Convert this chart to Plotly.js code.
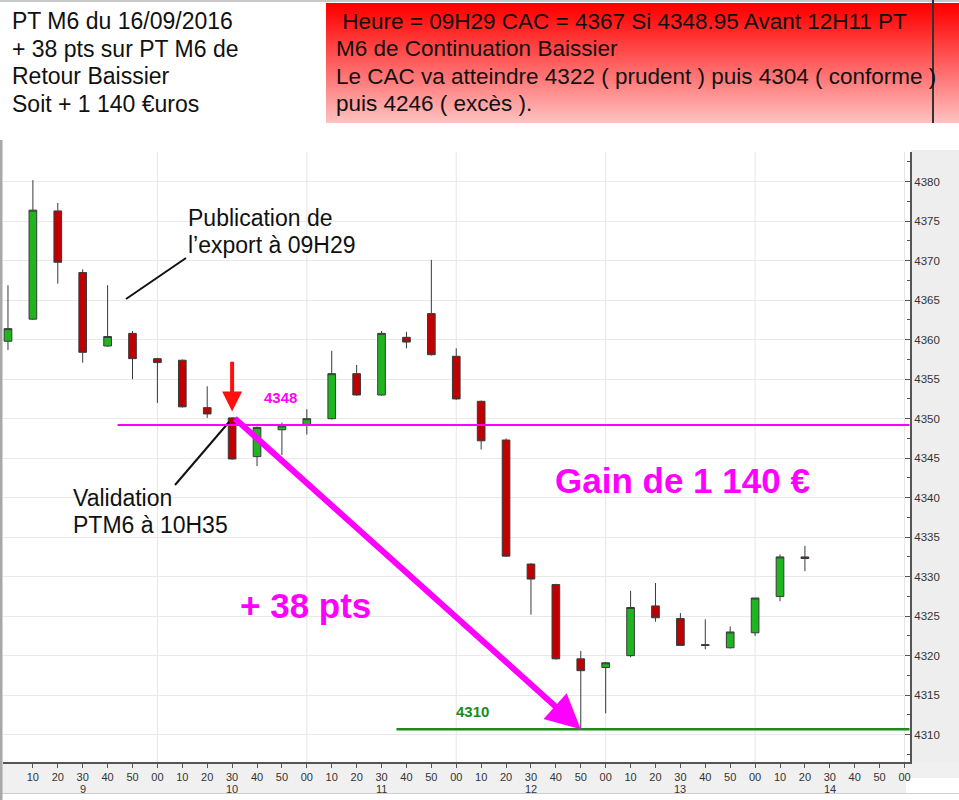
<!DOCTYPE html>
<html>
<head>
<meta charset="utf-8">
<script src="https://cdn.plot.ly/plotly-3.0.1.min.js"></script>
<style>
html,body{margin:0;padding:0;background:#fff;}
#chart{width:959px;height:800px;}
</style>
</head>
<body>
<div id="chart"></div>
<script>
// ---- data (10-minute candles, CAC 40, 16/09/2016) ----
const times  = ["09:00","09:10","09:20","09:30","09:40","09:50","10:00","10:10","10:20","10:30","10:40","10:50",
                "11:00","11:10","11:20","11:30","11:40","11:50","12:00","12:10","12:20","12:30","12:40","12:50",
                "13:00","13:10","13:20","13:30","13:40","13:50","14:00","14:10","14:20"];
const openV  = [4359.8,4362.6,4376.3,4368.5,4359.2,4360.8,4357.6,4357.4,4351.4,4350.1,4345.2,4348.6,
                4349.2,4350.0,4355.7,4353.0,4360.3,4363.3,4357.9,4352.2,4347.3,4331.6,4329.0,4319.6,
                4318.5,4320.0,4326.3,4324.7,4321.4,4321.0,4322.9,4327.5,4332.5];
const highV  = [4366.9,4380.2,4377.3,4368.9,4366.9,4361.1,4357.7,4357.5,4354.1,4350.2,4349.0,4349.5,
                4351.2,4358.6,4356.8,4361.1,4361.0,4370.1,4358.9,4352.3,4347.5,4331.7,4329.1,4320.6,
                4319.2,4328.2,4329.2,4325.4,4324.6,4323.7,4327.3,4332.8,4333.9];
const lowV   = [4358.7,4362.5,4367.1,4357.1,4359.1,4355.0,4352.0,4351.4,4350.1,4344.8,4344.0,4345.4,
                4348.0,4349.9,4352.9,4352.9,4358.9,4358.0,4352.4,4346.1,4332.5,4325.2,4319.5,4310.7,
                4312.7,4319.8,4324.3,4321.3,4320.8,4320.9,4322.5,4326.9,4330.7];
const closeV = [4361.4,4376.4,4369.8,4358.4,4360.4,4357.6,4357.1,4351.5,4350.6,4344.9,4348.9,4349.1,
                4350.0,4355.7,4353.0,4360.8,4359.7,4358.1,4352.5,4347.2,4332.6,4329.7,4319.6,4318.1,
                4319.1,4326.1,4324.8,4321.3,4321.3,4323.0,4327.3,4332.5,4332.3];
const hours = [9,10,11,12,13,14];
const levelSignal = 4349.2;   // ligne 4348
const levelTarget = 4310.7;   // ligne 4310
const signalTime = "10:30";
const targetTime = "12:50";
const lineSignalStart = "09:44";
const lineTargetStart = "11:36";

const textTopLeft = ["PT M6 du 16/09/2016", "+ 38 pts sur PT M6 de", "Retour Baissier", "Soit + 1 140 €uros"];
const textRedBox  = ["\u00a0Heure = 09H29 CAC = 4367 Si 4348.95 Avant 12H11 PT", "M6 de Continuation Baissier",
                     "Le CAC va atteindre 4322 ( prudent ) puis 4304 ( conforme )", "puis 4246 ( excès )."];
const textPublication = ["Publication de", "l’export à 09H29"];
const textValidation  = ["Validation", "PTM6 à 10H35"];

// ---- helpers ----
const toMin = t => { const p = t.split(":"); return (+p[0]) * 60 + (+p[1]); };
const xs = times.map(toMin);
const PX = px => (px - 3) / 907;      // pixel -> paper x
const PY = py => (762 - py) / 610;    // pixel -> paper y
const pad2 = n => (n < 10 ? "0" : "") + n;

const tickVals = [], tickText = [];
for (let m = 550; m <= 900; m += 10) { tickVals.push(m); tickText.push(pad2(m % 60)); }

const FONT = "Liberation Sans, Arial, sans-serif";

const trace = {
  type: "candlestick",
  x: xs, open: openV, high: highV, low: lowV, close: closeV,
  increasing: { fillcolor: "#1fb51f", line: { color: "#3a3a3a", width: 1 } },
  decreasing: { fillcolor: "#c00000", line: { color: "#3a3a3a", width: 1 } },
  whiskerwidth: 0,
  hoverinfo: "skip",
  showlegend: false
};

const svg = "<svg xmlns='http://www.w3.org/2000/svg' width='100' height='100' preserveAspectRatio='none'>" +
  "<defs><linearGradient id='g' x1='0' y1='0' x2='0' y2='1'>" +
  "<stop offset='0' stop-color='#ff0000'/><stop offset='0.08' stop-color='#ff0a0a'/><stop offset='1' stop-color='#ffc2c2'/>" +
  "</linearGradient></defs><rect width='100' height='100' fill='url(#g)'/></svg>";

const shapes = [
  { type: "rect", xref: "paper", yref: "paper", x0: PX(3), x1: PX(17), y0: PY(762), y1: PY(152), fillcolor: "#fff", line: { width: 0 }, layer: "between" },
  { type: "rect", xref: "paper", yref: "paper", x0: PX(3), x1: PX(57), y0: PY(762), y1: PY(365), fillcolor: "#fff", line: { width: 0 }, layer: "between" },
  { type: "rect", xref: "paper", yref: "paper", x0: PX(3), x1: PX(288), y0: PY(762), y1: PY(408), fillcolor: "#fff", line: { width: 0 }, layer: "between" },
  { type: "rect", xref: "paper", yref: "paper", x0: PX(911), x1: PX(960), y0: PY(762), y1: PY(150), fillcolor: "#eeeeee", line: { width: 0 }, layer: "below" },
  { type: "rect", xref: "paper", yref: "paper", x0: PX(0), x1: PX(906), y0: PY(793), y1: PY(762), fillcolor: "#f0f0f0", line: { width: 0 }, layer: "below" },
  { type: "rect", xref: "paper", yref: "paper", x0: PX(906), x1: PX(960), y0: PY(778), y1: PY(762), fillcolor: "#f0f0f0", line: { width: 0 }, layer: "below" },
  { type: "line", xref: "paper", yref: "paper", x0: PX(0), x1: PX(960), y0: PY(793.5), y1: PY(793.5), line: { color: "#cfcfcf", width: 1 }, layer: "below" },
  { type: "rect", xref: "paper", yref: "paper", x0: PX(0), x1: PX(2.5), y0: PY(800), y1: PY(140), fillcolor: "#a8a8a8", line: { width: 0 }, layer: "above" },
  { type: "line", xref: "paper", yref: "paper", x0: PX(0), x1: PX(959), y0: PY(1), y1: PY(1), line: { color: "#c8c8c8", width: 2 }, layer: "below" },
  { type: "line", xref: "paper", yref: "paper", x0: PX(933), x1: PX(933), y0: PY(0), y1: PY(123), line: { color: "#333", width: 2 }, layer: "above" },
  { type: "line", xref: "paper", yref: "paper", x0: PX(126), y0: PY(299), x1: PX(186), y1: PY(258), line: { color: "#111", width: 2 }, layer: "above" },
  { type: "line", xref: "paper", yref: "paper", x0: PX(175), y0: PY(485), x1: PX(229), y1: PY(422), line: { color: "#111", width: 2 }, layer: "above" },
  { type: "line", xref: "x", yref: "y", x0: toMin(lineSignalStart), x1: 902, y0: levelSignal, y1: levelSignal, line: { color: "#ff00ff", width: 2 }, layer: "above" },
  { type: "line", xref: "x", yref: "y", x0: toMin(lineTargetStart), x1: 902, y0: levelTarget, y1: levelTarget, line: { color: "#1b8c1b", width: 2.5 }, layer: "above" }
];
hours.forEach(h => {
  if (h > 9) shapes.push({ type: "line", xref: "x", yref: "paper", x0: h * 60, x1: h * 60, y0: 0, y1: 1, line: { color: "#e6e6e6", width: 1 }, layer: "below" });
});
shapes.push({ type: "line", xref: "x", yref: "paper", x0: 900, x1: 900, y0: 0, y1: 1, line: { color: "#e6e6e6", width: 1 }, layer: "below" });

const annotations = [];
function textBlock(lines, pxLeft, pyFirst, step, size) {
  lines.forEach((s, i) => annotations.push({
    xref: "paper", yref: "paper", x: PX(pxLeft), y: PY(pyFirst + i * step), xanchor: "left", yanchor: "middle",
    showarrow: false, text: s, font: { family: FONT, size: size, color: "#111" }
  }));
}
textBlock(textTopLeft, 10, 21, 27.6, 23);
textBlock(textRedBox, 334, 21, 27.6, 22.5);
textBlock(textPublication, 186, 218, 27, 23);
textBlock(textValidation, 71, 498, 27, 23);

annotations.push(
  { xref: "paper", yref: "paper", x: PX(305), y: PY(605), xanchor: "center", yanchor: "middle", showarrow: false,
    text: "<b>+ 38 pts</b>", font: { family: FONT, size: 35, color: "#ff00ff" } },
  { xref: "paper", yref: "paper", x: PX(682), y: PY(480), xanchor: "center", yanchor: "middle", showarrow: false,
    text: "<b>Gain de 1 140 €</b>", font: { family: FONT, size: 35, color: "#ff00ff" } },
  { xref: "paper", yref: "paper", x: PX(280), y: PY(397), xanchor: "center", yanchor: "middle", showarrow: false,
    text: "<b>4348</b>", font: { family: FONT, size: 15, color: "#ff00ff" } },
  { xref: "paper", yref: "paper", x: PX(472), y: PY(711), xanchor: "center", yanchor: "middle", showarrow: false,
    text: "<b>4310</b>", font: { family: FONT, size: 15, color: "#1b8c1b" } },
  { x: toMin(signalTime), y: highV[times.indexOf(signalTime)] + 0.7, ax: toMin(signalTime), ay: highV[times.indexOf(signalTime)] + 7.2,
    xref: "x", yref: "y", axref: "x", ayref: "y", text: "", showarrow: true,
    arrowhead: 2, arrowsize: 1, arrowwidth: 4, arrowcolor: "#ff1010", standoff: 0 },
  { x: toMin(targetTime), y: lowV[times.indexOf(targetTime)], ax: toMin(signalTime) + 0.5, ay: highV[times.indexOf(signalTime)],
    xref: "x", yref: "y", axref: "x", ayref: "y", text: "", showarrow: true,
    arrowhead: 2, arrowsize: 1.15, arrowwidth: 6, arrowcolor: "#ff00ff", standoff: 0 }
);
hours.forEach(h => {
  annotations.push({ xref: "x", yref: "paper", x: h * 60 + 30, y: PY(789), xanchor: "center", yanchor: "middle", showarrow: false,
    text: String(h), font: { family: FONT, size: 11, color: "#333" } });
});

const layout = {
  width: 959, height: 800,
  margin: { l: 3, r: 49, t: 152, b: 38, pad: 0 },
  paper_bgcolor: "#ffffff", plot_bgcolor: "#ffffff",
  showlegend: false,
  boxgap: 0.56,
  font: { family: FONT, size: 11, color: "#333" },
  xaxis: {
    range: [538, 902.2], fixedrange: true,
    rangeslider: { visible: false },
    tickmode: "array", tickvals: tickVals, ticktext: tickText,
    ticks: "outside", ticklen: 4, tickcolor: "#555", tickwidth: 1,
    showline: true, linecolor: "#555", linewidth: 2,
    showgrid: false, zeroline: false,
    tickfont: { family: FONT, size: 11, color: "#333" }
  },
  yaxis: {
    side: "right", range: [4306.54, 4383.76], fixedrange: true,
    tick0: 4310, dtick: 5, ticks: "inside", ticklen: 5, tickcolor: "#555",
    showline: true, linecolor: "#555", linewidth: 2,
    showgrid: true, gridcolor: "#e9e9e9", gridwidth: 1, zeroline: false,
    minor: { dtick: 2.5, tick0: 4310, ticks: "inside", ticklen: 3, tickcolor: "#555", showgrid: false },
    tickfont: { family: FONT, size: 11.5, color: "#333" }
  },
  shapes: shapes,
  annotations: annotations,
  images: [{
    source: "data:image/svg+xml;charset=utf-8," + encodeURIComponent(svg),
    xref: "paper", yref: "paper", x: PX(326), y: PY(3), sizex: PX(959) - PX(326), sizey: PY(3) - PY(123),
    xanchor: "left", yanchor: "top", sizing: "stretch", layer: "above"
  }]
};

Plotly.newPlot("chart", [trace], layout, { displayModeBar: false, staticPlot: true });
</script>
</body>
</html>
